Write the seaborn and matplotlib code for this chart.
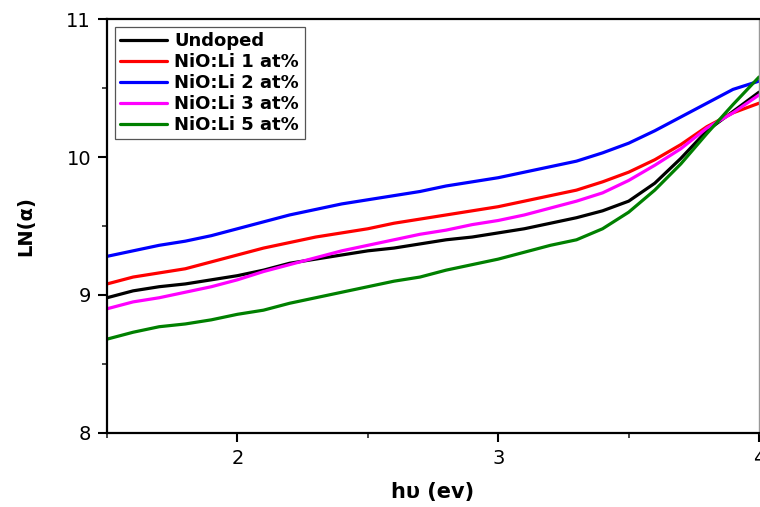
import numpy as np
import pandas as pd
import matplotlib
matplotlib.use("Agg")
import matplotlib.pyplot as plt
from matplotlib.ticker import MultipleLocator
import seaborn as sns

# Photon energy grid (eV)
energy = [1.5, 1.6, 1.7, 1.8, 1.9, 2.0, 2.1, 2.2, 2.3, 2.4, 2.5, 2.6, 2.7,
          2.8, 2.9, 3.0, 3.1, 3.2, 3.3, 3.4, 3.5, 3.6, 3.7, 3.8, 3.9, 4.0]

# ln(alpha) for each film
undoped = [8.98, 9.03, 9.06, 9.08, 9.11, 9.14, 9.18, 9.23, 9.26, 9.29, 9.32, 9.34, 9.37,
           9.40, 9.42, 9.45, 9.48, 9.52, 9.56, 9.61, 9.68, 9.81, 9.99, 10.19, 10.33, 10.47]
li_1 = [9.08, 9.13, 9.16, 9.19, 9.24, 9.29, 9.34, 9.38, 9.42, 9.45, 9.48, 9.52, 9.55,
        9.58, 9.61, 9.64, 9.68, 9.72, 9.76, 9.82, 9.89, 9.98, 10.09, 10.22, 10.32, 10.39]
li_2 = [9.28, 9.32, 9.36, 9.39, 9.43, 9.48, 9.53, 9.58, 9.62, 9.66, 9.69, 9.72, 9.75,
        9.79, 9.82, 9.85, 9.89, 9.93, 9.97, 10.03, 10.10, 10.19, 10.29, 10.39, 10.49, 10.55]
li_3 = [8.90, 8.95, 8.98, 9.02, 9.06, 9.11, 9.17, 9.22, 9.27, 9.32, 9.36, 9.40, 9.44,
        9.47, 9.51, 9.54, 9.58, 9.63, 9.68, 9.74, 9.83, 9.94, 10.06, 10.21, 10.32, 10.45]
li_5 = [8.68, 8.73, 8.77, 8.79, 8.82, 8.86, 8.89, 8.94, 8.98, 9.02, 9.06, 9.10, 9.13,
        9.18, 9.22, 9.26, 9.31, 9.36, 9.40, 9.48, 9.60, 9.76, 9.95, 10.17, 10.38, 10.58]

labels = ["Undoped", "NiO:Li 1 at%", "NiO:Li 2 at%", "NiO:Li 3 at%", "NiO:Li 5 at%"]
colors = ["black", "#ff0000", "#0000ff", "#ff00ff", "#008000"]
series = [undoped, li_1, li_2, li_3, li_5]

df = pd.concat(
    [pd.DataFrame({"E": energy, "lna": vals, "sample": lab}) for lab, vals in zip(labels, series)],
    ignore_index=True,
)

sns.set_style("ticks")
plt.rcParams["font.family"] = ["DejaVu Sans"]
plt.rcParams["text.color"] = "black"
plt.rcParams["axes.labelcolor"] = "black"

fig = plt.figure(figsize=(7.6, 5.07), dpi=100)
ax = fig.add_axes([0.1408, 0.146, 0.8580, 0.8165])

sns.lineplot(data=df, x="E", y="lna", hue="sample", palette=dict(zip(labels, colors)),
             hue_order=labels, linewidth=2.3, ax=ax, legend=True)

ax.set_xlim(1.5, 4.0)
ax.set_ylim(8, 11)
ax.xaxis.set_major_locator(MultipleLocator(1))
ax.xaxis.set_minor_locator(MultipleLocator(0.5))
ax.yaxis.set_major_locator(MultipleLocator(1))
ax.yaxis.set_minor_locator(MultipleLocator(0.5))
ax.tick_params(which="major", direction="out", length=6.5, width=1.5, labelsize=14, pad=5,
               colors="black")
ax.tick_params(which="minor", direction="out", length=3.5, width=1.2)

for side in ["left", "bottom", "top"]:
    ax.spines[side].set_linewidth(1.6)
    ax.spines[side].set_color("black")
ax.spines["right"].set_linewidth(1.0)
ax.spines["right"].set_color("#999999")

ax.set_xlabel("h\u03c5 (ev)", fontsize=15, fontweight="bold", labelpad=10)
ax.set_ylabel("LN(\u03b1)", fontsize=14, fontweight="bold", labelpad=22)

leg = ax.legend(loc="upper left", bbox_to_anchor=(0.012, 0.981), borderaxespad=0,
                frameon=True, fancybox=False, framealpha=1, edgecolor="#555555",
                prop={"weight": "bold", "size": 13}, handlelength=2.6,
                handletextpad=0.4, labelspacing=0.16, borderpad=0.3, title=None)
leg.get_frame().set_linewidth(0.9)
for line in leg.get_lines():
    line.set_linewidth(2.3)
for txt in leg.get_texts():
    txt.set_color("black")

fig.savefig("out.png", dpi=100)
